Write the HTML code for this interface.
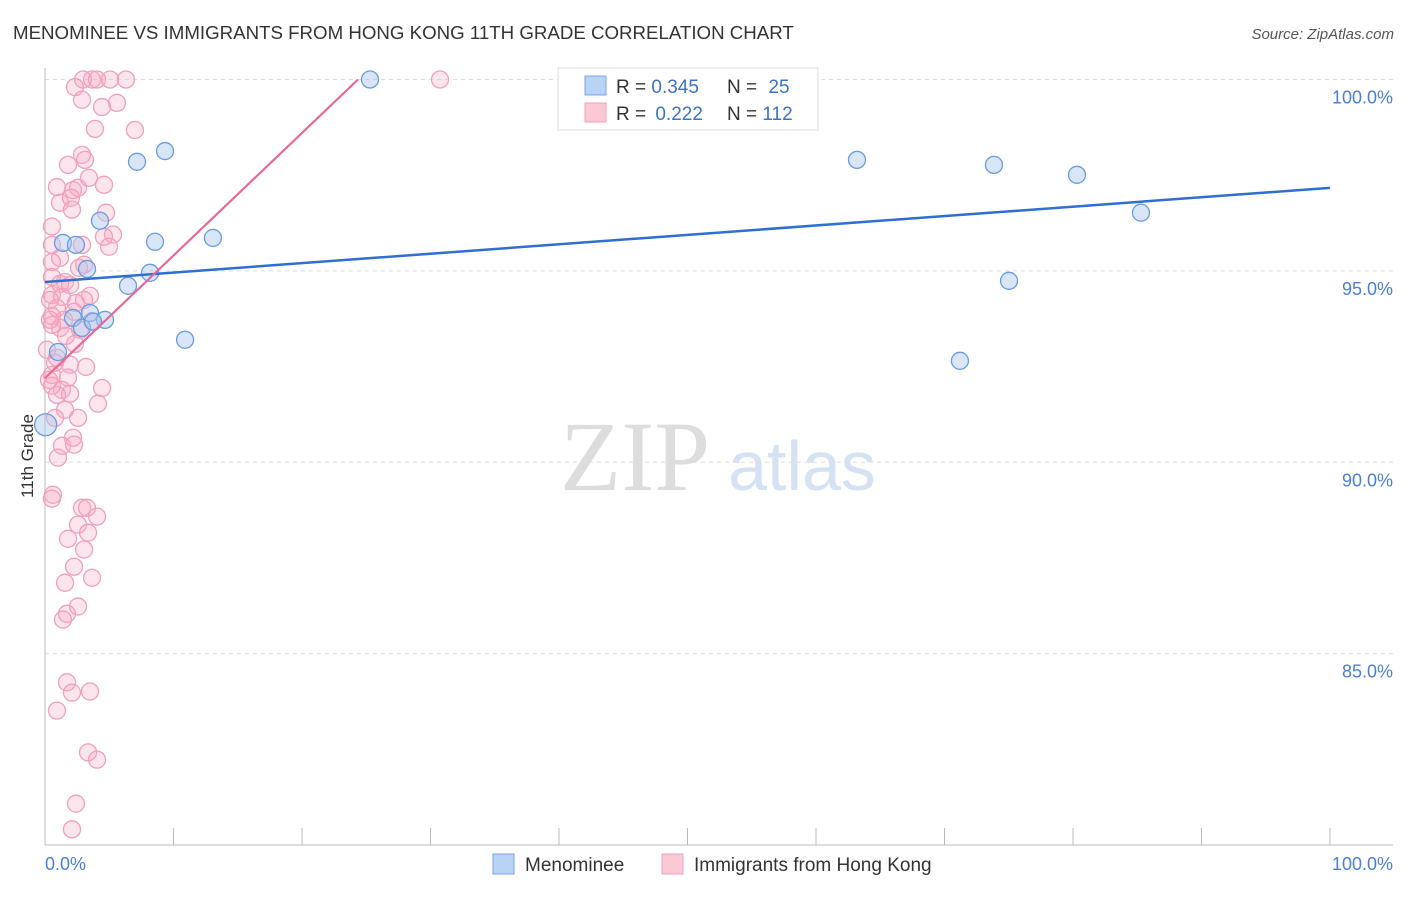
<!DOCTYPE html>
<html><head><meta charset="utf-8"><style>
body{margin:0;background:#fff;font-family:"Liberation Sans",sans-serif;}
</style></head><body>
<svg id="chart" width="1406" height="892" xmlns="http://www.w3.org/2000/svg">
<text x="13" y="39" font-size="18.7" fill="#333">MENOMINEE VS IMMIGRANTS FROM HONG KONG 11TH GRADE CORRELATION CHART</text>
<text x="1394" y="39" font-size="15" fill="#555" font-style="italic" text-anchor="end">Source: ZipAtlas.com</text>
<text x="33" y="456" font-size="17" fill="#333" text-anchor="middle" transform="rotate(-90 33 456)">11th Grade</text>
<g><text x="635" y="490" font-size="100" font-family="Liberation Serif" fill="#ddd" text-anchor="middle">ZIP</text><text x="802" y="490" font-size="70" fill="#d4e2f4" text-anchor="middle">atlas</text></g>
<g id="grid"></g><g id="pts"></g><g id="lines"></g>
<g>
<rect x="558" y="68" width="260" height="62" fill="#fff" stroke="#ddd"/>
<rect x="585" y="76" width="21" height="19" fill="#b8d3f4" stroke="#7aa6e6"/>
<rect x="585" y="103" width="21" height="19" fill="#fbc8d6" stroke="#f2a0b8"/>
<text x="616" y="93" font-size="19" fill="#333">R = <tspan fill="#3a72cc">0.345</tspan></text>
<text x="727" y="93" font-size="19" fill="#333">N = <tspan fill="#3a72cc" dx="6">25</tspan></text>
<text x="616" y="120" font-size="19" fill="#333">R = <tspan fill="#3a72cc" dx="4">0.222</tspan></text>
<text x="727" y="120" font-size="19" fill="#333">N = <tspan fill="#3a72cc">112</tspan></text>
</g>
<g>
<rect x="493" y="854" width="21" height="20" fill="#b8d3f4" stroke="#7aa6e6"/>
<text x="525" y="871" font-size="19" fill="#333">Menominee</text>
<rect x="662" y="854" width="21" height="20" fill="#fbc8d6" stroke="#f2a0b8"/>
<text x="694" y="871" font-size="19" fill="#333">Immigrants from Hong Kong</text>
</g>
</svg>
<script>
const yTicks=[85,90,95,100];
const xTickLabels=["0.0%","100.0%"];
const blueX=[25.29,7.16,9.34,4.28,1.4,2.41,3.27,8.56,13.07,8.17,6.46,3.5,2.18,2.88,4.67,3.74,1.01,10.9,63.19,73.85,80.31,85.29,75.02,71.2,0.05];
const blueY=[100,97.85,98.13,96.31,95.73,95.68,95.05,95.76,95.86,94.95,94.61,93.9,93.77,93.51,93.72,93.67,92.88,93.2,97.9,97.77,97.51,96.52,94.74,92.65,90.98];
const pinkX=[2.96,3.66,4.05,5.06,6.3,30.74,2.33,2.88,5.6,4.44,3.89,7.0,2.88,3.11,1.79,0.93,2.18,2.57,4.59,3.42,1.17,2.02,2.1,4.75,0.54,5.29,4.59,0.54,2.88,4.98,1.17,0.54,3.04,2.65,0.54,1.56,1.17,1.95,0.54,3.5,1.32,3.04,2.41,0.93,2.26,0.54,1.48,3.66,0.54,1.17,2.72,1.63,2.33,0.93,0.78,1.95,3.19,0.54,1.79,0.54,1.32,0.93,1.95,4.44,4.12,1.56,2.57,0.78,2.18,1.32,2.26,1.01,0.62,0.54,2.88,3.27,4.05,2.57,1.79,3.35,3.04,2.26,3.66,1.56,2.57,1.71,1.4,1.71,2.1,3.5,0.93,3.35,4.05,2.41,2.1,0.39,0.39,0.16,0.31];
const pinkY=[100,100,100,100,100,100,99.8,99.47,99.39,99.28,98.71,98.68,98.03,97.9,97.77,97.19,97.11,97.17,97.25,97.43,96.78,96.91,96.6,96.52,96.16,95.95,95.89,95.68,95.68,95.63,95.34,95.23,95.16,95.08,94.84,94.71,94.66,94.63,94.37,94.35,94.32,94.24,94.16,94.03,93.93,93.82,93.72,93.69,93.59,93.51,93.46,93.3,93.09,92.73,92.6,92.55,92.49,92.28,92.21,92.0,91.89,91.76,91.79,91.94,91.53,91.37,91.16,91.16,90.64,90.43,90.46,90.12,89.15,89.05,88.81,88.81,88.58,88.37,88.0,88.16,87.72,87.27,86.98,86.85,86.23,86.04,85.89,84.25,83.98,84.01,83.51,82.42,82.23,81.08,80.41,94.24,93.72,92.94,92.15];
const blueLine=[94.71,97.17];
const pinkLine=[92.2,100,24.36];
const NS="http://www.w3.org/2000/svg";
const X0=45,X1=1330,YT=79.5,YB=845,YMIN=80,YMAX=100;
const sx=v=>X0+(v/100)*(X1-X0);
const sy=v=>YB-(v-YMIN)/(YMAX-YMIN)*(YB-YT);
function mk(tag,attrs,parent){const e=document.createElementNS(NS,tag);for(const k in attrs)e.setAttribute(k,attrs[k]);parent.appendChild(e);return e;}
const grid=document.getElementById('grid');
yTicks.forEach(t=>{
 const l=mk('line',{x1:X0,x2:1393,y1:sy(t),y2:sy(t),stroke:'#ddd','stroke-dasharray':'4,4'},grid);
 
 
 const tx=mk('text',{x:1393,y:sy(t)+24,'font-size':18,fill:'#4a7fd4','text-anchor':'end'},grid);
 tx.textContent=t.toFixed(1)+'%';
 
 
});
const ax=mk('line',{x1:X0,x2:X0,y1:68,y2:YB,stroke:'#bbb'},grid);


const bx=mk('line',{x1:X0,x2:1393,y1:YB,y2:YB,stroke:'#bbb'},grid);


for(let i=1;i<=10;i++){const t=mk('line',{x1:sx(i*10),x2:sx(i*10),y1:828,y2:YB,stroke:'#bbb'},grid);
 
 }
const xl0=mk('text',{x:45,y:870,'font-size':18,fill:'#4a7fd4'},grid);xl0.textContent=xTickLabels[0];


const xl1=mk('text',{x:1393,y:870,'font-size':18,fill:'#4a7fd4','text-anchor':'end'},grid);xl1.textContent=xTickLabels[1];


const pts=document.getElementById('pts');
pinkX.forEach((x,i)=>{const c=mk('circle',{cx:sx(x),cy:sy(pinkY[i]),r:8.5,fill:'rgba(247,170,196,0.3)',stroke:'#f0a0ba','stroke-width':1.3},pts);
 
 });
blueX.forEach((x,i)=>{const c=mk('circle',{cx:sx(x),cy:sy(blueY[i]),r:i==24?11:8.5,fill:'rgba(168,200,240,0.45)',stroke:'#6a9be0','stroke-width':1.3},pts);
 
 });
const lines=document.getElementById('lines');
const bl=mk('line',{x1:sx(0),y1:sy(blueLine[0]),x2:sx(100),y2:sy(blueLine[1]),stroke:'#2f6fd0','stroke-width':2.5},lines);


const pl=mk('line',{x1:sx(0),y1:sy(pinkLine[0]),x2:sx(pinkLine[2]),y2:sy(pinkLine[1]),stroke:'#e86898','stroke-width':2.2},lines);


</script>
</body></html>
